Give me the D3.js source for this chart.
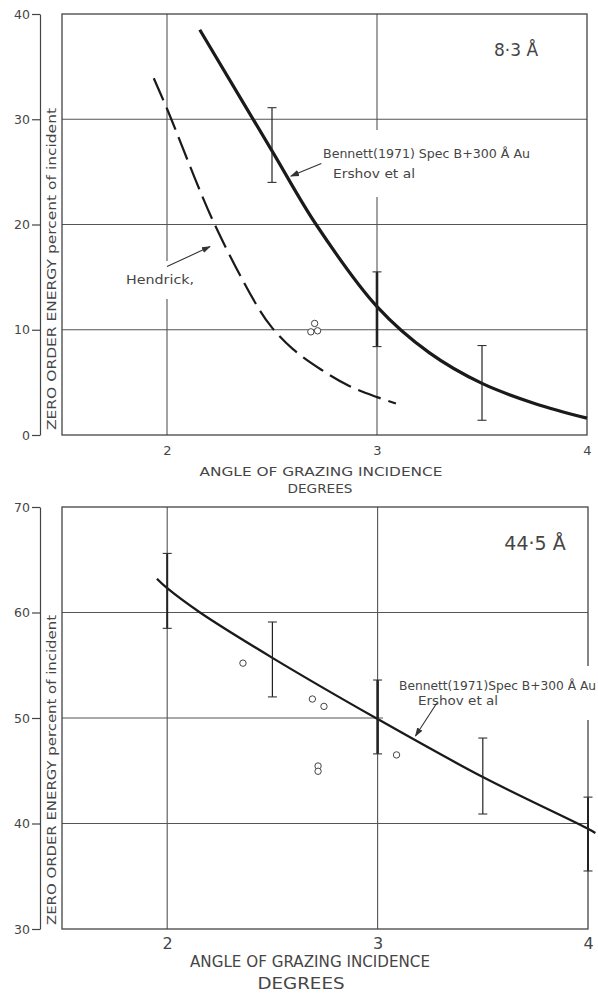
<!DOCTYPE html>
<html>
<head>
<meta charset="utf-8">
<script src="https://cdn.jsdelivr.net/npm/d3@7"></script>
<style>
body { margin: 0; background: #fff; }
svg { display: block; background: #fff; }
text { font-family: "DejaVu Sans", sans-serif; fill: #454545; }
</style>
</head>
<body>
<svg></svg>
<script>
// ---- 8.3 A panel ----
let xTicks = [2, 3, 4]
let topYTicks = [0, 10, 20, 30, 40]
let topBennett = [[2.156, 38.5], [2.5, 27.0], [2.71, 20.0], [3.0, 12.2], [3.25, 7.8], [3.5, 4.9], [3.75, 3.0], [4.0, 1.6]]
let topHendrick = [[1.937, 33.9], [2.0, 31.0], [2.227, 20.0], [2.44, 11.9], [2.5, 10.2], [2.597, 8.2], [2.735, 6.2], [2.868, 4.66], [3.0, 3.6], [3.09, 3.0]]
let topErrX = [2.5, 3.0, 3.5]
let topErrLo = [24.0, 8.4, 1.4]
let topErrHi = [31.1, 15.5, 8.5]
let topCircles = [[2.685, 9.8], [2.703, 10.6], [2.717, 9.9]]

// ---- 44.5 A panel ----
let botYTicks = [30, 40, 50, 60, 70]
let botBennett = [[1.951, 63.2], [2.0, 62.3], [2.156, 60.0], [2.5, 55.7], [3.0, 49.9], [3.5, 44.4], [4.0, 39.5], [4.035, 39.1]]
let botErrX = [2.0, 2.5, 3.0, 3.5, 4.0]
let botErrLo = [58.5, 52.0, 46.6, 40.9, 35.5]
let botErrHi = [65.6, 59.1, 53.6, 48.1, 42.5]
let botCircles = [[2.36, 55.2], [2.69, 51.8], [2.745, 51.1], [3.09, 46.5], [2.717, 45.45], [2.717, 44.95]]

let width = 598
let height = 994

let svg = d3.select("svg").attr("width", width).attr("height", height)

svg.append("defs").append("marker")
    .attr("id", "arrow")
    .attr("viewBox", "0 0 10 10")
    .attr("refX", 9).attr("refY", 5)
    .attr("markerWidth", 9).attr("markerHeight", 9)
    .attr("markerUnits", "userSpaceOnUse")
    .attr("orient", "auto")
    .append("path")
    .attr("d", "M0,1.5 L10,5 L0,8.5 Z")
    .attr("fill", "#333")

let drawPanel = (p) => {
    let x = d3.scaleLinear().domain([1.5, 4]).range([p.left, p.right])
    let y = d3.scaleLinear().domain(p.yDomain).range([p.bottom, p.top])
    let g = svg.append("g")

    // grid
    g.selectAll(".hgrid")
        .data(p.yTicks.slice(1, -1))
        .enter().append("line")
        .attr("x1", p.left).attr("x2", p.right)
        .attr("y1", d => y(d)).attr("y2", d => y(d))
        .attr("stroke", "#555").attr("stroke-width", 1.1)
    g.selectAll(".vgrid")
        .data([2, 3])
        .enter().append("line")
        .attr("x1", d => x(d)).attr("x2", d => x(d))
        .attr("y1", p.top).attr("y2", p.bottom)
        .attr("stroke", "#555").attr("stroke-width", 1.1)
    g.append("rect")
        .attr("x", p.left).attr("y", p.top)
        .attr("width", p.right - p.left).attr("height", p.bottom - p.top)
        .attr("fill", "none").attr("stroke", "#444").attr("stroke-width", 1.3)

    // annotations (white patch under them breaks the grid like the original)
    p.notes.forEach(n => {
        let ng = g.append("g")
        n.lines.forEach(l => {
            let t = ng.append("text")
                .attr("x", l.x).attr("y", l.y)
                .attr("font-size", l.size)
                .text(l.text)
            if (l.len) t.attr("textLength", l.len).attr("lengthAdjust", "spacingAndGlyphs")
        })
        let bb = ng.node().getBBox()
        ng.insert("rect", "text")
            .attr("x", bb.x - n.pad[0]).attr("y", bb.y - n.pad[1])
            .attr("width", bb.width + 2 * n.pad[0]).attr("height", bb.height + 2 * n.pad[1])
            .attr("fill", "#fff")
        if (n.arrow) {
            g.append("line")
                .attr("x1", x(n.arrow[0][0])).attr("y1", y(n.arrow[0][1]))
                .attr("x2", x(n.arrow[1][0])).attr("y2", y(n.arrow[1][1]))
                .attr("stroke", "#333").attr("stroke-width", 1.1)
                .attr("marker-end", "url(#arrow)")
        }
    })

    let line = d3.line()
        .x(d => x(d[0]))
        .y(d => y(d[1]))
        .curve(d3.curveCatmullRom.alpha(0.5))

    p.curves.forEach(c => {
        g.append("path")
            .attr("d", line(c.data))
            .attr("fill", "none")
            .attr("stroke", "#1a1a1a")
            .attr("stroke-width", c.width)
            .attr("stroke-dasharray", c.dash || null)
            .attr("stroke-linecap", "butt")
    })

    // error bars
    p.errX.forEach((ex, i) => {
        let sw = p.errWidth[i]
        g.append("line")
            .attr("x1", x(ex)).attr("x2", x(ex))
            .attr("y1", y(p.errLo[i])).attr("y2", y(p.errHi[i]))
            .attr("stroke", "#222").attr("stroke-width", sw)
        ;[p.errLo[i], p.errHi[i]].forEach(v => {
            g.append("line")
                .attr("x1", x(ex) - 4.5).attr("x2", x(ex) + 4.5)
                .attr("y1", y(v)).attr("y2", y(v))
                .attr("stroke", "#333").attr("stroke-width", 1.1)
        })
    })

    g.selectAll(".pt")
        .data(p.circles)
        .enter().append("circle")
        .attr("cx", d => x(d[0]))
        .attr("cy", d => y(d[1]))
        .attr("r", 3.2)
        .attr("fill", "#fff")
        .attr("stroke", "#444").attr("stroke-width", 1)

    // left axis, standing apart from the box
    let yAxis = d3.axisLeft(y).tickValues(p.yTicks).tickSize(8).tickSizeOuter(0).tickPadding(2)
    let ya = g.append("g")
        .attr("transform", "translate(" + p.axisX + ",0)")
        .call(yAxis)
    ya.selectAll("path, line").attr("stroke", "#444").attr("stroke-width", 1.2)
    ya.selectAll("text").attr("font-size", 12.5).attr("font-family", "DejaVu Sans").attr("fill", "#444")

    let xAxis = d3.axisBottom(x).tickValues(xTicks).tickSize(0).tickPadding(p.xPad).tickFormat(d3.format("d"))
    let xa = g.append("g")
        .attr("transform", "translate(0," + p.bottom + ")")
        .call(xAxis)
    xa.select(".domain").remove()
    xa.selectAll("text").attr("font-size", p.xTickSize).attr("font-family", p.xFont).attr("fill", "#444")

    // titles
    p.titles.forEach(t => {
        let el = g.append("text")
            .attr("transform", t.rot ? "translate(" + t.x + "," + t.y + ") rotate(-90)" : null)
            .attr("x", t.rot ? 0 : t.x).attr("y", t.rot ? 0 : t.y)
            .attr("text-anchor", "middle")
            .attr("font-size", t.size)
            .attr("font-family", t.font || null)
            .text(t.text)
        if (t.len) el.attr("textLength", t.len).attr("lengthAdjust", "spacingAndGlyphs")
    })
}

drawPanel({
    left: 62, right: 587, top: 14, bottom: 435, axisX: 40,
    yDomain: [0, 40], yTicks: topYTicks,
    xPad: 11, xTickSize: 13, xFont: "DejaVu Sans",
    curves: [
        { data: topBennett, width: 3.2 },
        { data: topHendrick, width: 2.2, dash: "24,8" }
    ],
    errX: topErrX, errLo: topErrLo, errHi: topErrHi, errWidth: [1.2, 2.6, 1.2],
    circles: topCircles,
    notes: [
        { pad: [4, 16], arrow: [[2.735, 25.8], [2.59, 24.6]], lines: [
            { x: 323, y: 158, size: 12, text: "Bennett(1971) Spec B+300 Å Au", len: 207 },
            { x: 333, y: 178, size: 12, text: "Ershov et al", len: 82 }
        ] },
        { pad: [3, 12], arrow: [[2.0, 16.0], [2.205, 17.9]], lines: [
            { x: 126, y: 284, size: 12, text: "Hendrick,", len: 68 }
        ] }
    ],
    titles: [
        { text: "8·3 Å", x: 516, y: 56, size: 17 },
        { text: "ZERO ORDER ENERGY percent of incident", x: 56, y: 269, rot: true, size: 12.5, len: 322 },
        { text: "ANGLE OF GRAZING INCIDENCE", x: 321, y: 476, size: 12.5, len: 243 },
        { text: "DEGREES", x: 320, y: 493, size: 12.5, len: 65 }
    ]
})

drawPanel({
    left: 62, right: 588, top: 507, bottom: 929, axisX: 40,
    yDomain: [30, 70], yTicks: botYTicks,
    xPad: 9, xTickSize: 16, xFont: "DejaVu Sans Condensed, DejaVu Sans",
    curves: [
        { data: botBennett, width: 2.3 }
    ],
    errX: botErrX, errLo: botErrLo, errHi: botErrHi, errWidth: [2, 1.2, 2.6, 1.2, 2],
    circles: botCircles,
    notes: [
        { pad: [16, 12], arrow: [[3.281, 51.4], [3.18, 48.3]], lines: [
            { x: 399, y: 690, size: 12, text: "Bennett(1971)Spec B+300 Å Au", len: 197 },
            { x: 418, y: 705, size: 12, text: "Ershov et al", len: 80 }
        ] }
    ],
    titles: [
        { text: "44·5 Å", x: 535, y: 550, size: 19 },
        { text: "ZERO ORDER ENERGY percent of incident", x: 56, y: 770, rot: true, size: 12.5, len: 310 },
        { text: "ANGLE OF GRAZING INCIDENCE", x: 310, y: 967, size: 16, len: 240, font: "DejaVu Sans Condensed, DejaVu Sans" },
        { text: "DEGREES", x: 301, y: 989, size: 15, len: 87, font: "DejaVu Sans Condensed, DejaVu Sans" }
    ]
})
</script>
</body>
</html>
